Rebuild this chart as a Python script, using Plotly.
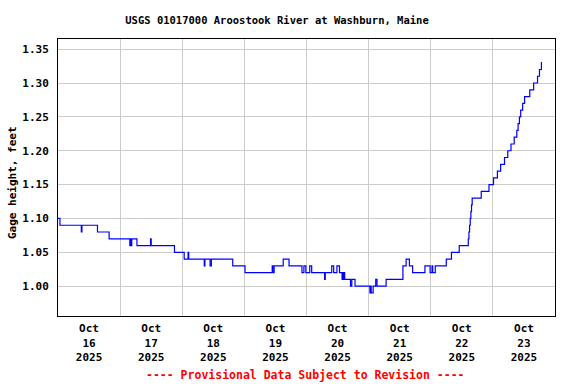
import pandas as pd
import plotly.graph_objects as go

# ---- data ----
start = "2025-10-16 00:00"
# hours since Oct 16 00:00 at which the gage value changes (step series)
hours_since_start = [
    0.0, 0.75, 9.0, 9.25, 15.25, 19.75, 27.75, 28.0, 28.25, 28.5, 30.5, 35.75, 36.0,
    45.0, 48.75, 50.25, 50.5, 56.5, 56.75, 58.75, 59.25, 67.5, 72.25, 82.75, 83.0,
    83.5, 87.0, 89.25, 94.25, 95.0, 95.75, 97.25, 98.0, 103.0, 103.25, 105.75, 106.5,
    107.75, 108.75, 109.75, 110.0, 110.25, 110.5, 110.75, 113.0, 113.5, 114.75,
    120.5, 120.75, 121.0, 121.75, 122.75, 123.25, 126.75, 133.25, 134.5, 135.75,
    137.0, 141.75, 143.75, 144.5, 144.75, 145.75, 150.0, 152.0, 155.0, 158.5,
    158.75, 159.0, 159.25, 159.5, 159.75, 160.0, 163.5, 166.5, 168.25, 169.75,
    171.0, 172.5, 173.75, 175.0, 176.25, 177.25, 177.75, 178.25, 178.75, 179.5,
    180.25, 182.25, 183.75, 185.25, 186.0, 186.75, 187.0,
]
gage_ft = [
    1.10, 1.09, 1.08, 1.09, 1.08, 1.07, 1.06, 1.07, 1.06, 1.07, 1.06, 1.07, 1.06,
    1.05, 1.04, 1.05, 1.04, 1.03, 1.04, 1.03, 1.04, 1.03, 1.02, 1.03, 1.02,
    1.03, 1.04, 1.03, 1.02, 1.03, 1.02, 1.03, 1.02, 1.01, 1.02, 1.03, 1.02,
    1.03, 1.02, 1.01, 1.02, 1.01, 1.02, 1.01, 1.00, 1.01, 1.00,
    0.99, 1.00, 0.99, 1.00, 1.01, 1.00, 1.01, 1.03, 1.04, 1.03,
    1.02, 1.03, 1.02, 1.03, 1.02, 1.03, 1.04, 1.05, 1.06, 1.07,
    1.08, 1.09, 1.10, 1.11, 1.12, 1.13, 1.14, 1.15, 1.16, 1.17,
    1.18, 1.19, 1.20, 1.21, 1.22, 1.23, 1.24, 1.25, 1.26, 1.27,
    1.28, 1.29, 1.30, 1.31, 1.32, 1.33, 1.33,
]
day_labels = ["Oct<br>16<br>2025", "Oct<br>17<br>2025", "Oct<br>18<br>2025",
              "Oct<br>19<br>2025", "Oct<br>20<br>2025", "Oct<br>21<br>2025",
              "Oct<br>22<br>2025", "Oct<br>23<br>2025"]
label_times = ["2025-10-16 12:00", "2025-10-17 12:00", "2025-10-18 12:00",
               "2025-10-19 12:00", "2025-10-20 12:00", "2025-10-21 12:00",
               "2025-10-22 12:00", "2025-10-23 12:00"]
grid_times = ["2025-10-17", "2025-10-18", "2025-10-19", "2025-10-20",
              "2025-10-21", "2025-10-22", "2025-10-23"]
y_ticks = [1.00, 1.05, 1.10, 1.15, 1.20, 1.25, 1.30, 1.35]

times = pd.Timestamp(start) + pd.to_timedelta(hours_since_start, unit="h")

FONT = "DejaVu Sans Mono"

fig = go.Figure()
fig.add_trace(go.Scatter(
    x=times, y=gage_ft, mode="lines",
    line=dict(color="#0000ff", width=1.2, shape="hv"),
    hoverinfo="skip", showlegend=False,
))

fig.update_layout(
    width=576, height=384,
    margin=dict(l=58, r=21, t=39, b=68),
    paper_bgcolor="white", plot_bgcolor="white",
    font=dict(family=FONT, size=11, color="black", weight="bold"),
    title=dict(
        text="USGS 01017000 Aroostook River at Washburn, Maine",
        x=277 / 576, xanchor="center", xref="container",
        y=1 - 20 / 384, yanchor="middle", yref="container",
        font=dict(family=FONT, size=10.5, color="black", weight="bold"),
    ),
    xaxis=dict(
        type="date",
        range=["2025-10-16 00:00", "2025-10-24 00:00"],
        tickmode="array", tickvals=label_times, ticktext=day_labels,
        showgrid=False, ticks="", zeroline=False, ticklabelstandoff=2,
        tickfont=dict(family=FONT, size=11, color="black", weight="bold"),
        showline=True, linecolor="black", linewidth=1, mirror=True,
        minor=dict(tickmode="array", tickvals=grid_times, showgrid=True,
                   gridcolor="#cccccc", gridwidth=1, ticks=""),
    ),
    yaxis=dict(
        range=[0.956, 1.365],
        tickmode="array", tickvals=y_ticks,
        ticktext=[f"{v:.2f}" for v in y_ticks],
        showgrid=True, gridcolor="#cccccc", gridwidth=1,
        ticks="", zeroline=False, ticklabelstandoff=6,
        tickfont=dict(family=FONT, size=11, color="black", weight="bold"),
        showline=True, linecolor="black", linewidth=1, mirror=True,
    ),
    annotations=[
        dict(text="Gage height, feet", textangle=-90,
             xref="paper", yref="paper", x=(12 - 58) / 497, y=(316 - 183) / 277,
             xanchor="center", yanchor="middle", showarrow=False,
             font=dict(family=FONT, size=11, color="black", weight="bold")),
        dict(text="---- Provisional Data Subject to Revision ----",
             xref="paper", yref="paper", x=(305.5 - 58) / 497, y=(316 - 375) / 277,
             xanchor="center", yanchor="middle", showarrow=False,
             font=dict(family=FONT, size=11.5, color="red", weight="bold")),
    ],
)

fig.write_html("out.html",
               config={"displayModeBar": False, "staticPlot": True},
               post_script="document.body.style.margin='0px';"
                           "document.body.style.overflow='hidden';")
